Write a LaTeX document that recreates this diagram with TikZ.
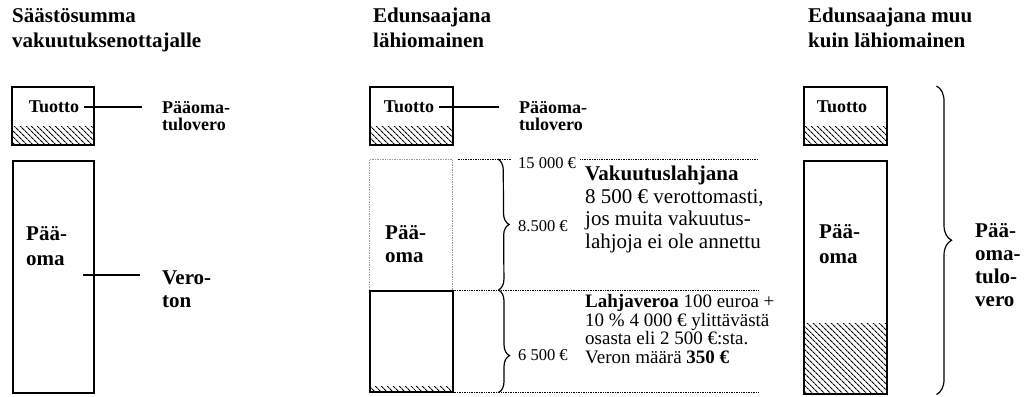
\documentclass[tikz,border=0pt]{standalone}
\usepackage{fontspec}
\setmainfont{Liberation Serif}
\usetikzlibrary{patterns.meta,decorations.pathreplacing}

\tikzset{
  box/.style={draw,line width=1.5pt,inner sep=0pt,anchor=north west},
  dotbox/.style={draw,gray!80,line width=0.7pt,densely dotted,inner sep=0pt,anchor=north west},
  hatch/.style={pattern={Lines[angle=-45,distance=4pt,line width=1.1pt]},pattern color=black},
  head/.style={font=\fontsize{21}{25}\selectfont\bfseries,align=left,anchor=north west,inner sep=0pt},
  tuot/.style={font=\fontsize{18}{20}\selectfont\bfseries,inner xsep=5pt,inner ysep=0pt},
  smalll/.style={font=\fontsize{18}{17}\selectfont\bfseries,align=left,anchor=north west,inner sep=0pt},
  bigl/.style={font=\fontsize{21}{#1}\selectfont\bfseries,align=left,anchor=north west,inner sep=0pt},
  bigl/.default=23,
  num/.style={font=\fontsize{16.5}{18}\selectfont,anchor=west,inner sep=0pt},
  txt/.style 2 args={font=\fontsize{#1}{#2}\selectfont,align=left,anchor=north west,inner sep=0pt},
  conn/.style={line width=1.3pt},
  dotline/.style={line width=0.7pt,densely dotted},
  curly/.style={decorate,decoration={brace,amplitude=#1},line width=1.2pt},
}

\begin{document}
\begin{tikzpicture}[x=1pt,y=-1pt]
\useasboundingbox (0,0) rectangle (1032,396);
% headings
\node[head] (h1) at (12,8) {Säästösumma\\vakuutuksenottajalle};
\node[head] (h2) at (373,8) {Edunsaajana\\lähiomainen};
\node[head] (h3) at (808,8) {Edunsaajana muu\\kuin lähiomainen};
% tuotto boxes
\foreach \n/\x/\w/\c in {1/11/82/54,2/369/83/409,3/803/83/842}{
  \fill[hatch] (\x,126) rectangle ++(\w,18);
  \node[box,minimum width=\w pt,minimum height=58pt] (tb\n) at (\x,86) {};
  \node[tuot] (t\n) at (\c,107) {Tuotto};
}
\node[smalll] (pv1) at (162,101) {Pääoma-\\tulovero};
\node[smalll] (pv2) at (519,101) {Pääoma-\\tulovero};
\draw[conn,shorten >=20pt] (t1.east) -- (t1.east -| pv1.west);
\draw[conn,shorten >=20pt] (t2.east) -- (t2.east -| pv2.west);
% savings sum
\node[box,minimum width=81pt,minimum height=232pt] (pb1) at (12,160) {};
\node[bigl=25] (po1) at (26,226) {Pää-\\oma};
\coordinate (v1) at (83,275);
\node[bigl] (vt1) at (162,271) {Vero-\\ton};
\draw[conn,shorten >=22pt] (v1) -- (v1 -| vt1.west);
% close relative
\node[dotbox,minimum width=83pt,minimum height=131pt] (db2) at (369,159) {};
\fill[hatch] (369,386) rectangle (452,391);
\node[box,minimum width=83pt,minimum height=101pt] (sb2) at (369,290) {};
\node[bigl] (po2) at (385,225) {Pää-\\oma};
\node[num] (n15) at (518,163) {15 000 €};
\node[num] (n85) at (518,226) {8.500 €};
\node[num] (n65) at (518,355) {6 500 €};
\coordinate (e1) at (758,159);
\draw[dotline,shorten <=5pt,shorten >=6pt] (db2.north east) -- (db2.north east -| n15.west);
\draw[dotline,shorten <=4pt] (db2.north east -| n15.east) -- (e1);
\draw[dotline] (sb2.north east) -- (sb2.north east -| e1);
\draw[dotline] (sb2.south east) -- (sb2.south east -| e1);
\draw[curly=11pt] ([xshift=45pt]db2.north east) -- ([xshift=45pt]sb2.north east);
\draw[curly=11pt,decoration={aspect=0.64}] ([xshift=45pt]sb2.north east) -- ([xshift=45pt]sb2.south east);
\node[txt={21}{22.5}] (vk) at (585,166) {\textbf{Vakuutuslahjana}\\8 500 € verottomasti,\\jos muita vakuutus-\\lahjoja ei ole annettu};
\node[txt={19}{18.7}] (lv) at (585,294) {\textbf{Lahjaveroa} 100 euroa +\\10 \% 4 000 € ylittävästä\\osasta eli 2 500 €:sta.\\Veron määrä \textbf{350 €}};
% other beneficiary
\fill[hatch] (803,323) rectangle (886,393);
\node[box,minimum width=83pt,minimum height=233pt] (pb3) at (803,160) {};
\node[bigl=25] (po3) at (819,224) {Pää-\\oma};
\draw[curly=15pt] ([xshift=49pt]tb3.north east) -- ([xshift=49pt]pb3.south east);
\node[bigl] (pt3) at (975,223) {Pää-\\oma-\\tulo-\\vero};
\end{tikzpicture}
\end{document}
